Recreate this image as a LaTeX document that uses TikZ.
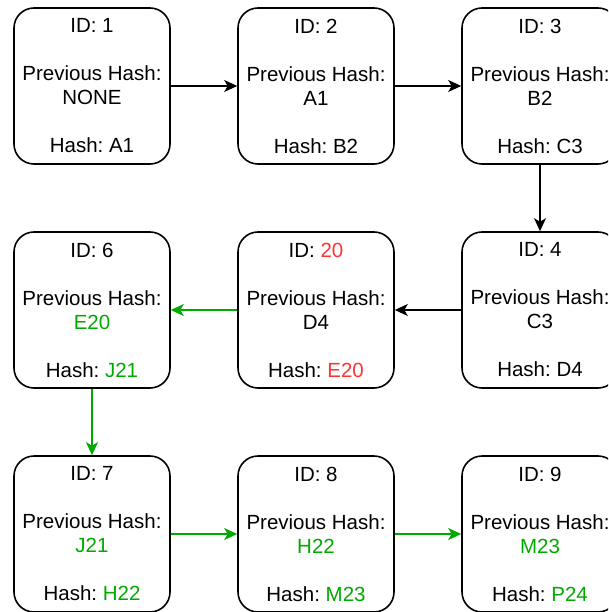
\documentclass[tikz,border=0pt]{standalone}
\usepackage{fontspec}
\setmainfont{Liberation Sans}
\usetikzlibrary{arrows.meta}
\frenchspacing
\definecolor{okgreen}{RGB}{0,170,0}
\definecolor{badred}{RGB}{255,51,51}
\newcommand{\gtext}[1]{\textcolor{okgreen}{#1}}
\newcommand{\rtext}[1]{\textcolor{badred}{#1}}
\tikzset{
  block/.style={draw=black, line width=1.6pt, rounded corners=20pt,
    minimum width=156pt, minimum height=156pt, inner sep=0pt,
    align=center, font=\fontsize{20.5}{24}\selectfont},
  link/.style={line width=1.4pt, -{Stealth[length=13pt,width=12pt,inset=3.5pt]}},
  oklink/.style={link, draw=okgreen, fill=okgreen}
}
\begin{document}
\begin{tikzpicture}[x=1pt,y=-1pt]
  \useasboundingbox (0,0) rectangle (608,612);
  \clip (0,0) rectangle (608,612);
  % first row
  \node[block] (b1) at (92,86)  {ID: 1\\[24pt]Previous Hash:\\NONE\\[24pt]Hash: A1};
  \node[block] (b2) at (316,86) {ID: 2\\[24pt]Previous Hash:\\A1\\[24pt]Hash: B2};
  \node[block] (b3) at (540,86) {ID: 3\\[24pt]Previous Hash:\\B2\\[24pt]Hash: C3};
  % second row
  \node[block] (b4) at (540,310) {ID: 4\\[24pt]Previous Hash:\\C3\\[24pt]Hash: D4};
  \node[block] (b20) at (316,310) {ID: \rtext{20}\\[24pt]Previous Hash:\\D4\\[24pt]Hash: \rtext{E20}};
  \node[block] (b6) at (92,310) {ID: 6\\[24pt]Previous Hash:\\\gtext{E20}\\[24pt]Hash: \gtext{J21}};
  % third row
  \node[block] (b7) at (92,534)  {ID: 7\\[24pt]Previous Hash:\\\gtext{J21}\\[24pt]Hash: \gtext{H22}};
  \node[block] (b8) at (316,534) {ID: 8\\[24pt]Previous Hash:\\\gtext{H22}\\[24pt]Hash: \gtext{M23}};
  \node[block] (b9) at (540,534) {ID: 9\\[24pt]Previous Hash:\\\gtext{M23}\\[24pt]Hash: \gtext{P24}};
  % chain links
  \draw[link] (b1) -- (b2);
  \draw[link] (b2) -- (b3);
  \draw[link] (b3) -- (b4);
  \draw[link] (b4) -- (b20);
  \draw[oklink] (b20) -- (b6);
  \draw[oklink] (b6) -- (b7);
  \draw[oklink] (b7) -- (b8);
  \draw[oklink] (b8) -- (b9);
\end{tikzpicture}
\end{document}
